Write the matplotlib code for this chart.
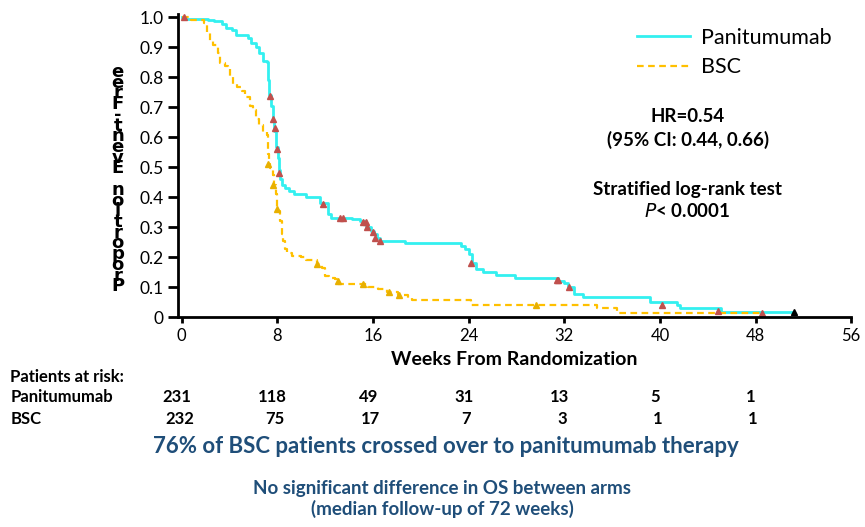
import numpy as np
import matplotlib
matplotlib.use('Agg')
import matplotlib.pyplot as plt
from matplotlib import transforms

plt.rcParams['font.family'] = ['Lato', 'DejaVu Sans']

# Kaplan-Meier steps (week, proportion event-free)
pani_t = [0, 0.3, 2.2, 2.7, 3.4, 3.7, 4.2, 4.5, 5.5, 5.8, 6.2, 6.5, 6.8, 7.1, 7.2, 7.3,
          7.5, 7.6, 7.7, 7.85, 7.9, 8.05, 8.1, 8.2, 8.4, 8.6, 9.0, 9.4, 10.4, 11.6, 12.2,
          12.5, 14.2, 14.9, 15.4, 15.8, 16.1, 16.3, 16.6, 18.7, 23.4, 23.7, 24.0, 24.3,
          24.6, 25.2, 26.3, 27.9, 31.5, 32.0, 32.3, 32.8, 33.6, 39.2, 41.4, 41.7, 45.1, 51.2]
pani_s = [1.0, 0.994, 0.99, 0.986, 0.977, 0.964, 0.956, 0.94, 0.93, 0.914, 0.90, 0.88,
          0.855, 0.85, 0.79, 0.74, 0.705, 0.655, 0.62, 0.607, 0.567, 0.53, 0.49, 0.46,
          0.44, 0.43, 0.42, 0.41, 0.40, 0.38, 0.343, 0.33, 0.326, 0.32, 0.30, 0.287, 0.277,
          0.265, 0.254, 0.248, 0.238, 0.228, 0.21, 0.18, 0.16, 0.15, 0.14, 0.132, 0.122,
          0.115, 0.10, 0.079, 0.069, 0.05, 0.04, 0.03, 0.017, 0.017]

bsc_t = [0, 0.8, 1.9, 2.1, 2.4, 2.6, 3.0, 3.2, 3.6, 3.9, 4.0, 4.3, 4.6, 5.0, 5.3, 5.7,
         6.0, 6.2, 6.5, 6.8, 7.1, 7.2, 7.25, 7.3, 7.4, 7.6, 7.7, 7.9, 8.0, 8.2, 8.4, 8.5,
         8.6, 8.8, 9.2, 10.0, 10.4, 11.3, 11.7, 12.0, 12.3, 12.8, 13.1, 15.6, 16.4, 17.2,
         18.1, 18.9, 19.3, 24.2, 34.7, 36.4, 48.4]
bsc_s = [1.0, 0.99, 0.98, 0.947, 0.92, 0.908, 0.88, 0.848, 0.838, 0.83, 0.805, 0.776,
         0.766, 0.755, 0.733, 0.705, 0.69, 0.66, 0.64, 0.617, 0.607, 0.584, 0.545, 0.51,
         0.496, 0.475, 0.44, 0.41, 0.353, 0.32, 0.277, 0.254, 0.228, 0.215, 0.205, 0.20,
         0.19, 0.178, 0.165, 0.139, 0.132, 0.128, 0.112, 0.10, 0.095, 0.083, 0.073, 0.063,
         0.056, 0.04, 0.03, 0.013, 0.013]

# censored observations
pani_cens_t = [0.2, 7.36, 7.65, 7.8, 8.0, 8.1, 11.8, 13.2, 13.5, 15.2, 15.4, 15.5, 16.0,
               16.2, 16.6, 24.2, 31.4, 31.5, 32.4, 40.2, 44.9, 48.5]
pani_cens_s = [1.0, 0.736, 0.66, 0.63, 0.56, 0.48, 0.377, 0.33, 0.33, 0.318, 0.318, 0.30,
               0.284, 0.265, 0.254, 0.18, 0.124, 0.124, 0.10, 0.04, 0.02, 0.015]
bsc_cens_t = [7.2, 7.65, 8.0, 11.3, 13.1, 15.2, 17.3, 18.2, 29.6]
bsc_cens_s = [0.51, 0.44, 0.36, 0.178, 0.12, 0.11, 0.083, 0.073, 0.04]
last_t, last_s = [51.2], [0.017]

weeks = [0, 8, 16, 24, 32, 40, 48, 56]
risk_weeks = [0, 8, 16, 24, 32, 40, 48]
risk_pani = [231, 118, 49, 31, 13, 5, 1]
risk_bsc = [232, 75, 17, 7, 3, 1, 1]
yticks = [0, 0.1, 0.2, 0.3, 0.4, 0.5, 0.6, 0.7, 0.8, 0.9, 1.0]
ylabels = ['0', '0.1', '0.2', '0.3', '0.4', '0.5', '0.6', '0.7', '0.8', '0.9', '1.0']

cyan = '#33F0F0'
gold = '#FFC000'
navy = '#1F4E79'

fig = plt.figure(figsize=(8.65, 5.27), dpi=100)
ax = fig.add_axes([0.206, 0.398, 0.778, 0.575])

ax.step(pani_t, pani_s, where='post', color=cyan, lw=2, label='Panitumumab')
ax.step(bsc_t, bsc_s, where='post', color=gold, lw=1.6, ls=(0, (3, 2)), label='BSC')
ax.plot(bsc_cens_t, bsc_cens_s, '^', color='#E8B000', ms=4, ls='none')
ax.plot(pani_cens_t, pani_cens_s, '^', color='#C0504D', ms=4.5, ls='none')
ax.plot(last_t, last_s, '^', color='black', ms=5, ls='none')

ax.set_xlim(-0.3, 56)
ax.set_ylim(0, 1.01)
ax.set_xticks(weeks)
ax.set_xticklabels([str(w) for w in weeks], fontsize=12)
ax.set_yticks(yticks)
ax.set_yticklabels(ylabels, fontsize=12.5)
for s in ['top', 'right']:
    ax.spines[s].set_visible(False)
for s in ['left', 'bottom']:
    ax.spines[s].set_linewidth(2)
ax.tick_params(axis='y', width=2, length=7, direction='out')
ax.tick_params(axis='x', width=2, length=4, direction='out')
ax.set_xlabel('Weeks From Randomization', fontsize=14, fontweight='bold', labelpad=5)

# stacked, reversed y label as in the original slide
ylab = 'Proportion Event-Free'[::-1]
fig.text(0.136, 0.66, '\n'.join(ylab), fontsize=13, fontweight='bold', ha='center',
         va='center', linespacing=0.48, family=['DejaVu Sans'])

ax.legend(loc='upper right', bbox_to_anchor=(1.0, 1.02), frameon=False, fontsize=15.5,
          handlelength=2.5, handletextpad=0.5, labelspacing=0.45)

ax.text(0.757, 0.69, 'HR=0.54\n(95% CI: 0.44, 0.66)', transform=ax.transAxes, ha='center',
        va='top', fontsize=13.5, fontweight='bold', linespacing=1.4)
ax.text(0.757, 0.45, 'Stratified log-rank test\n$\\bf{\\it{P}}$< 0.0001', transform=ax.transAxes,
        ha='center', va='top', fontsize=13.5, fontweight='bold', linespacing=1.3)

# patients at risk table
tr = transforms.blended_transform_factory(ax.transData, fig.transFigure)
fig.text(0.012, 0.284, 'Patients at risk:', fontsize=12, fontweight='bold', va='center')
fig.text(0.012, 0.246, 'Panitumumab', fontsize=12, fontweight='bold', va='center')
fig.text(0.012, 0.205, 'BSC', fontsize=12, fontweight='bold', va='center')
for w, p, b in zip(risk_weeks, risk_pani, risk_bsc):
    ax.text(w - 0.4, 0.246, str(p), transform=tr, ha='center', va='center',
            fontsize=12, fontweight='bold')
    ax.text(w - 0.2, 0.205, str(b), transform=tr, ha='center', va='center',
            fontsize=12, fontweight='bold')

fig.text(0.516, 0.152, '76% of BSC patients crossed over to panitumumab therapy',
         ha='center', va='center', fontsize=16, fontweight='bold', color=navy)
fig.text(0.511, 0.053, 'No significant difference in OS between arms\n(median follow-up of 72 weeks)',
         ha='center', va='center', fontsize=13.5, fontweight='bold', color=navy,
         linespacing=1.2)

fig.savefig('out.png', dpi=100)
